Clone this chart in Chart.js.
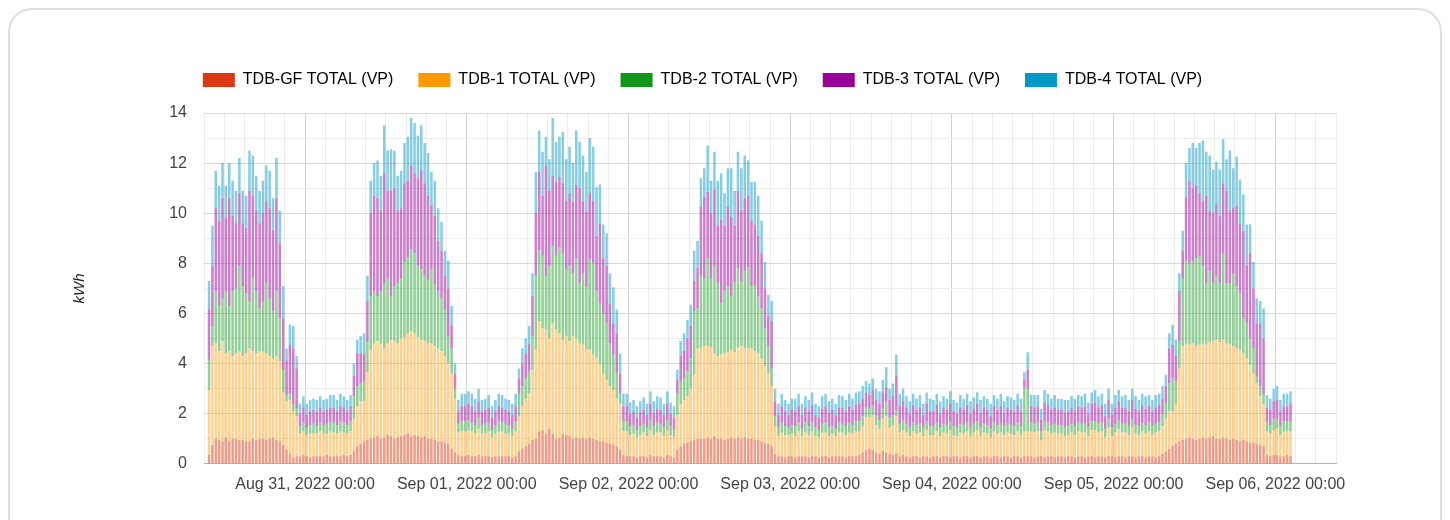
<!DOCTYPE html>
<html>
<head>
<meta charset="utf-8">
<title>TDB totals (VP)</title>
<script src="https://cdn.jsdelivr.net/npm/chart.js@4/dist/chart.umd.min.js"></script>
<style>
  html, body { margin: 0; padding: 0; background: #fff; }
  body { width: 1450px; height: 520px; position: relative; overflow: hidden; }
  .card { position: absolute; left: 8px; top: 8px; width: 1434px; height: 560px; border: 2px solid #dedede; border-radius: 24px; box-sizing: border-box; }
  #chart { position: absolute; left: 0; top: 0; }
</style>
</head>
<body>
<div class="card"></div>
<canvas id="chart" width="1450" height="520"></canvas>
<script>
// half-hour readings, first slot Aug 30 2022 09:30, last slot Sep 06 02:00
const firstHour = 9.5; // hours after Aug 30 00:00

const tdbGF = [
  .35,.75,1.0,.95,.9,1.05,.9,1.0,1.0,.95,.95,.9,.9,1.0,.95,1.0,1.0,.95,1.0,1.05,.95,.9,
  .75,.55,.4,.25,.3,
  .3,.35,.3,.25,.3,.3,.3,.3,.35,.3,.3,.3,.3,.35,.3,.35,
  .5,.7,.8,.9,.95,
  1.0,1.05,1.1,1.0,1.05,1.15,1.1,1.0,1.05,1.1,1.15,1.2,1.1,1.15,1.1,1.05,1.1,1.0,1.0,.95,.9,.9,.85,.8,.6,.45,
  .35,.3,.3,.35,.3,.3,.35,.3,.3,.3,.25,.3,.3,.3,.3,.3,.25,.3,
  .5,.6,.7,.8,.95,
  1.0,1.3,1.35,1.2,1.4,1.2,1.0,1.05,1.2,1.15,1.1,1.0,1.05,1.0,1.05,1.0,1.05,1.0,.95,.9,.9,.85,.8,.75,.7,.55,.35,
  .3,.3,.3,.25,.3,.3,.25,.35,.3,.3,.3,.25,.35,.3,.25,
  .55,.7,.8,.85,.9,.95,1.0,1.0,1.0,1.05,1.0,1.1,1.0,1.0,.95,1.0,1.05,1.0,1.05,1.0,1.05,1.0,1.0,.95,.95,.9,.85,.8,.7,.4,
  .3,.3,.25,.3,.3,.25,.3,.3,.3,.25,.3,.3,.25,.3,.3,.25,.3,.3,.3,.3,.25,.3,.3,.3,
  .35,.45,.55,.6,.55,.45,.4,.5,.45,.4,.35,.4,.3,.35,
  .3,.25,.3,.3,.25,.3,.3,.25,.3,.3,.25,.3,.3,.25,.3,.3,.25,.3,.3,.25,.3,.3,.25,.3,.3,.25,.3,.3,.25,.3,.3,.25,.3,.3,.25,
  .3,.3,
  .3,.25,.3,.3,.25,.3,.3,.25,.3,.3,.25,.3,.3,.25,.3,.3,.25,.3,.3,.25,.3,.3,.25,.3,.3,.25,.3,.3,.25,.3,.3,.25,.3,.3,.25,.3,.3,.25,.3,
  .4,.5,.6,.7,.8,.9,
  .95,1.0,1.05,1.0,.95,1.0,1.05,1.0,1.05,1.1,1.0,1.0,1.05,1.0,.95,1.0,.95,.9,.95,.9,.85,.85,.8,.75,.7,
  .35,.3,.35,.35,.3,.3,.35,.3
];

const tdb1 = [
  2.6,3.95,3.8,3.55,4.0,3.35,3.6,3.3,3.4,3.55,3.35,3.5,3.7,3.5,3.45,3.5,3.5,3.45,3.3,3.15,3.35,3.2,
  2.1,1.95,2.15,1.85,1.6,
  .9,.95,.85,.95,.9,.9,1.0,.9,.85,1.0,.95,.9,1.0,.9,.9,.95,
  1.3,1.6,1.7,1.6,2.7,
  3.55,3.75,3.8,3.8,3.55,3.65,3.85,3.9,3.75,3.9,3.9,4.0,4.2,4.05,3.95,3.9,3.8,3.8,3.8,3.75,3.7,3.6,3.45,3.2,3.0,2.15,
  .9,1.0,1.0,1.0,1.0,.9,1.05,.9,.9,1.0,.8,.9,1.0,1.0,.9,.9,.85,1.0,
  1.4,1.7,1.9,2.0,2.8,
  3.55,4.4,4.05,4.15,3.6,4.4,4.35,4.15,3.75,3.95,3.8,4.1,3.95,3.8,3.7,3.55,3.5,3.35,3.3,3.1,2.7,2.5,2.3,2.2,1.9,1.85,.95,
  1.0,.85,.9,.8,.85,.95,.85,1.0,.85,.95,.95,.85,1.0,.85,.8,
  1.4,1.7,1.75,1.85,2.1,2.6,3.6,3.6,3.7,3.65,3.65,3.3,3.3,3.35,3.45,3.45,3.5,3.45,3.6,3.7,3.55,3.6,3.6,3.55,3.45,3.3,3.05,2.8,2.4,1.1,
  .8,.95,.9,.85,.9,.85,1.0,.8,.95,.9,1.0,.8,.8,.95,.95,.85,.9,.8,.95,.95,.9,.95,.9,1.0,
  .95,1.05,1.3,1.25,1.4,1.1,1.0,1.3,1.45,1.05,1.2,1.5,.95,1.0,
  .95,.85,1.0,.9,1.0,.8,1.05,.9,.85,1.0,.85,.95,.9,1.1,.85,.8,1.0,.9,1.0,.85,.95,1.05,.85,.95,.9,.8,1.0,.9,1.0,.85,.95,.95,.85,1.0,.9,
  1.0,1.0,
  1.0,1.0,1.0,.65,1.1,1.0,.9,1.0,.9,.9,.85,.85,.95,.9,1.0,.95,1.0,.8,1.05,1.1,.95,1.0,.8,1.15,.8,1.0,1.1,.95,1.0,.85,1.15,.95,.85,1.0,.95,1.0,.85,1.0,1.0,
  1.1,1.3,1.5,1.4,1.6,2.9,
  3.75,3.8,3.7,3.8,3.75,3.75,3.75,3.75,3.8,3.8,3.95,3.85,3.9,3.8,3.8,3.7,3.65,3.65,3.45,3.3,3.1,2.75,2.4,1.95,1.7,
  .95,.9,1.0,1.05,.85,1.0,.95,1.0
];

const tdb2 = [
  1.2,.8,2.1,1.8,1.7,2.5,1.8,2.6,2.6,3.4,2.8,2.4,1.9,2.9,2.5,1.7,2.0,2.8,2.3,1.9,2.6,1.7,
  .9,.25,.25,.3,.3,
  .3,.35,.3,.35,.4,.3,.35,.35,.4,.35,.4,.35,.4,.4,.35,.4,
  .9,.8,.7,.8,1.2,
  2.15,2.1,1.8,2.1,2.6,2.6,1.75,2.2,2.4,2.4,3.0,3.05,3.25,3.2,2.85,2.8,2.6,2.55,2.95,2.45,2.3,2.1,1.85,1.1,1.0,.4,
  .35,.4,.4,.4,.35,.35,.45,.35,.4,.35,.3,.35,.4,.35,.4,.35,.3,.4,
  .9,.8,.8,.9,1.35,
  2.95,2.8,2.9,2.15,2.9,3.1,2.95,3.45,3.45,2.65,3.0,2.5,3.2,2.4,2.85,2.5,3.6,3.65,2.65,2.4,2.4,2.25,1.7,1.4,1.0,.4,.4,
  .4,.35,.35,.3,.35,.35,.35,.4,.35,.4,.35,.35,.4,.35,.3,
  .85,.9,.85,1.0,1.2,2.55,1.6,2.9,2.7,3.5,2.75,3.5,2.9,2.05,2.5,2.65,2.15,2.8,3.15,2.6,3.1,3.25,2.5,2.6,2.3,2.0,1.5,1.1,.7,.4,
  .35,.4,.35,.3,.35,.4,.35,.3,.4,.35,.4,.35,.3,.35,.4,.35,.35,.3,.4,.35,.35,.4,.35,.4,
  .4,.4,.4,.35,.4,.4,.35,.4,.6,.4,.4,.25,.35,.4,
  .35,.35,.35,.35,.35,.35,.35,.35,.35,.35,.35,.35,.35,.35,.35,.35,.35,.35,.35,.35,.35,.35,.35,.35,.35,.35,.35,.35,.35,.35,.35,.35,.35,.35,.35,
  1.75,1.7,
  .35,.35,.35,.35,.35,.35,.35,.35,.35,.35,.35,.35,.35,.35,.35,.35,.35,.35,.35,.35,.35,.35,.35,.35,.35,.35,.35,.35,.35,.35,.35,.35,.35,.35,.35,.35,.35,.35,.35,
  .5,.6,1.1,1.3,.9,1.1,
  2.7,3.3,3.25,3.3,3.5,3.55,3.1,2.45,2.85,2.3,2.55,2.35,3.45,2.4,2.45,2.9,2.5,2.25,1.4,1.4,1.05,1.0,.3,.4,.4,
  .35,.35,.45,.4,.35,.4,.4,.4
];

const tdb3 = [
  2.05,2.4,3.3,3.4,4.0,2.9,4.3,3.0,2.6,2.9,2.5,2.6,4.4,3.3,3.2,3.4,3.5,3.3,3.6,3.2,3.7,3.0,
  2.05,1.35,1.95,2.2,1.6,
  .5,.6,.5,.55,.55,.6,.6,.55,.55,.6,.6,.55,.6,.6,.55,.6,
  .8,1.3,1.2,1.1,1.65,
  3.3,3.8,3.9,3.2,4.4,3.5,4.2,3.9,2.9,2.8,3.15,3.05,3.35,3.2,3.5,3.95,3.7,3.35,2.55,2.75,2.0,1.9,1.35,1.9,.9,.6,
  .5,.6,.6,.65,.65,.55,.65,.55,.55,.6,.5,.55,.6,.6,.55,.55,.55,.6,
  .6,.9,1.0,1.1,1.6,
  2.5,3.15,2.4,4.4,3.0,2.8,2.95,2.8,2.8,2.75,2.9,2.85,2.95,3.8,2.9,3.0,2.65,2.5,2.2,3.2,2.2,2.3,1.6,1.25,1.6,.8,.6,
  .6,.5,.55,.5,.55,.55,.5,.65,.55,.55,.55,.5,.65,.5,.5,
  .55,1.0,1.1,1.3,1.3,1.2,1.6,2.75,3.25,2.65,2.6,3.05,2.3,3.35,2.6,3.15,3.15,2.25,3.1,2.8,2.9,2.85,2.6,2.45,2.4,2.2,1.6,1.2,1.9,.6,
  .5,.65,.6,.5,.6,.6,.65,.55,.6,.6,.65,.5,.5,.6,.65,.6,.6,.55,.6,.65,.6,.65,.6,.65,
  .7,.7,.6,.55,.6,.6,.65,.65,.55,.7,.75,1.35,.7,.75,
  .65,.55,.7,.6,.65,.5,.7,.6,.6,.7,.55,.65,.6,.7,.6,.55,.65,.6,.7,.55,.6,.7,.6,.65,.6,.5,.65,.6,.7,.55,.65,.6,.6,.7,.6,
  .3,.75,
  .65,.65,.65,.45,.75,.7,.6,.65,.6,.6,.6,.6,.65,.6,.65,.65,.7,.55,.7,.75,.65,.7,.5,.75,.5,.65,.75,.65,.65,.6,.75,.65,.6,.7,.65,.65,.6,.65,.7,
  .6,.7,1.4,1.35,1.0,2.0,
  1.1,2.55,3.3,2.9,2.9,2.5,2.6,3.5,2.4,2.8,2.9,2.7,2.8,3.7,2.9,2.6,3.2,2.8,3.5,2.3,3.4,2.4,2.1,2.5,2.2,
  .6,.6,.7,.75,.6,.6,.6,.7
];

const tdb4 = [
  1.1,1.6,1.5,1.4,1.4,1.3,1.4,1.4,1.3,1.4,1.3,1.3,1.6,1.6,1.4,1.3,1.3,1.4,1.5,1.3,1.6,1.3,
  1.3,.5,.8,.9,.5,
  .4,.45,.45,.45,.45,.45,.45,.45,.45,.5,.5,.45,.5,.45,.45,.45,
  .5,.55,.7,.8,1.0,
  1.3,1.3,1.5,1.4,1.9,1.6,1.65,1.5,1.4,1.5,1.6,1.75,1.9,2.0,1.7,1.8,1.6,1.7,1.35,1.4,1.3,1.15,1.0,1.1,.8,.4,
  .45,.5,.5,.5,.5,.5,.5,.45,.45,.5,.45,.45,.5,.5,.45,.45,.45,.5,
  .4,.6,.6,.7,.9,
  1.65,1.65,1.75,1.15,1.25,2.3,1.6,1.6,2.05,1.65,1.85,1.55,2.15,1.85,1.8,1.6,2.2,2.15,1.95,1.55,1.35,1.3,1.2,1.45,.95,.8,.5,
  .5,.45,.45,.45,.45,.5,.45,.5,.45,.5,.5,.45,.5,.45,.45,
  .4,.6,.7,.75,.85,1.2,1.1,1.15,1.15,1.85,1.3,1.5,1.8,1.85,1.3,1.55,1.95,1.4,1.55,1.7,1.7,1.4,1.55,1.7,1.6,1.3,1.05,.85,.8,.5,
  .45,.5,.45,.45,.45,.5,.5,.45,.45,.45,.5,.45,.45,.5,.5,.45,.45,.45,.5,.45,.45,.5,.45,.5,
  .5,.5,.45,.45,.45,.45,.5,.5,.8,.45,.5,.85,.5,.5,
  .45,.5,.45,.45,.5,.45,.45,.5,.45,.45,.5,.45,.45,.5,.45,.45,.5,.45,.45,.5,.45,.45,.5,.45,.45,.5,.45,.45,.5,.45,.45,.5,.45,.45,.5,
  .3,.7,
  .45,.5,.45,.45,.5,.45,.45,.5,.45,.45,.5,.45,.45,.5,.45,.45,.5,.45,.45,.5,.45,.45,.5,.45,.45,.5,.45,.45,.5,.45,.45,.5,.45,.45,.5,.45,.45,.5,.45,
  .5,.45,.6,.8,.65,.7,
  .8,1.35,1.3,1.8,1.5,2.0,2.4,1.75,2.2,1.75,1.65,1.85,1.75,1.25,2.4,1.6,1.95,1.75,1.45,1.65,1.15,1.05,1.0,.9,1.2,
  .5,.45,.5,.55,.45,.5,.5,.5
];

const seriesNames = ['TDB-GF TOTAL (VP)', 'TDB-1 TOTAL (VP)', 'TDB-2 TOTAL (VP)', 'TDB-3 TOTAL (VP)', 'TDB-4 TOTAL (VP)'];
const dayLabels = ['Aug 31, 2022 00:00', 'Sep 01, 2022 00:00', 'Sep 02, 2022 00:00', 'Sep 03, 2022 00:00',
  'Sep 04, 2022 00:00', 'Sep 05, 2022 00:00', 'Sep 06, 2022 00:00'];
const yTicks = [0, 2, 4, 6, 8, 10, 12, 14];

const solidColors = ['#dc3912', '#ff9900', '#109618', '#990099', '#0099c6'];
const barColors = ['rgba(220,57,18,0.5)', 'rgba(255,153,0,0.45)', 'rgba(16,150,24,0.45)', 'rgba(153,0,153,0.5)', 'rgba(0,153,198,0.48)'];

Chart.defaults.font.family = "'Liberation Sans', Arial, sans-serif";
Chart.defaults.font.size = 16;
Chart.defaults.color = '#444';

const allSeries = [tdbGF, tdb1, tdb2, tdb3, tdb4];
const datasets = allSeries.map((values, s) => ({
  label: seriesNames[s],
  data: values.map((v, i) => ({ x: firstHour + i * 0.5 + 0.25, y: v })),
  backgroundColor: barColors[s],
  borderWidth: 0,
  barPercentage: 0.75,
  categoryPercentage: 1
}));

// push the plot area down below the legend
const legendSpacing = {
  id: 'legendSpacing',
  beforeInit(chart) {
    const fit = chart.legend.fit;
    chart.legend.fit = function () {
      fit.bind(chart.legend)();
      this.height += 15;
    };
  }
};

new Chart(document.getElementById('chart'), {
  type: 'bar',
  data: { datasets: datasets },
  options: {
    responsive: false,
    animation: false,
    layout: { padding: { top: 47, left: 69, right: 114, bottom: 15 } },
    plugins: {
      legend: {
        position: 'top',
        labels: {
          boxWidth: 32,
          boxHeight: 14,
          padding: 25,
          color: '#333',
          generateLabels: chart => chart.data.datasets.map((ds, i) => ({
            text: ds.label,
            fillStyle: solidColors[i],
            strokeStyle: solidColors[i],
            lineWidth: 0,
            hidden: !chart.isDatasetVisible(i),
            datasetIndex: i
          }))
        }
      },
      tooltip: { enabled: false }
    },
    scales: {
      x: {
        type: 'linear',
        stacked: true,
        offset: false,
        min: 9,
        max: 177,
        grid: {
          offset: false,
          drawTicks: false,
          color: ctx => (ctx.tick && ctx.tick.value % 24 === 0) ? '#d2d2d2' : '#ececec'
        },
        border: { color: '#b4b4b4' },
        ticks: {
          stepSize: 3,
          maxTicksLimit: 100,
          autoSkip: false,
          maxRotation: 0,
          minRotation: 0,
          padding: 11,
          callback: v => v % 24 === 0 ? dayLabels[v / 24 - 1] : ''
        }
      },
      y: {
        stacked: true,
        min: 0,
        max: 14,
        grid: {
          drawTicks: false,
          color: ctx => ctx.tick.value % 2 === 0 ? '#dadada' : '#eeeeee'
        },
        border: { display: false },
        ticks: {
          stepSize: 1,
          padding: 17,
          callback: v => yTicks.includes(v) ? v : ''
        },
        title: {
          display: true,
          text: 'kWh',
          color: '#222',
          padding: { top: 3, bottom: 0 },
          font: { size: 15, style: 'italic', lineHeight: 1 }
        },
        afterFit: scale => { scale.width = 135; }
      }
    }
  },
  plugins: [legendSpacing]
});
</script>
</body>
</html>
